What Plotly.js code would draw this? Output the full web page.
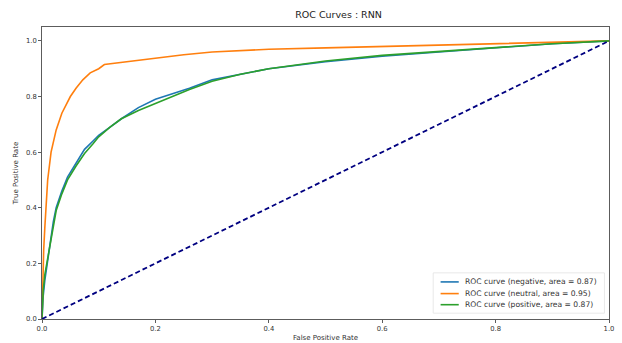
<!DOCTYPE html>
<html><head><meta charset="utf-8">
<script src="https://cdn.plot.ly/plotly-3.0.1.min.js"></script>
<style>html,body{margin:0;padding:0;background:#fff}#c{width:622px;height:343px}</style>
</head><body><div id="c"></div>
<script>
const negFpr = [0, 0.002, 0.005, 0.01, 0.015, 0.02, 0.025, 0.035, 0.045, 0.06, 0.075, 0.09, 0.1, 0.12, 0.14, 0.17, 0.2, 0.23, 0.26, 0.3, 0.35, 0.4, 0.5, 0.6, 0.7, 0.8, 0.9, 1];
const negTpr = [0, 0.08, 0.14, 0.21, 0.29, 0.35, 0.40, 0.46, 0.51, 0.56, 0.61, 0.64, 0.66, 0.69, 0.72, 0.76, 0.79, 0.81, 0.83, 0.86, 0.88, 0.90, 0.925, 0.945, 0.96, 0.975, 0.99, 1];
const neuFpr = [0, 0.001, 0.003, 0.005, 0.007, 0.01, 0.016, 0.025, 0.035, 0.05, 0.06, 0.072, 0.085, 0.1, 0.11, 0.13, 0.16, 0.2, 0.25, 0.3, 0.35, 0.4, 0.5, 0.6, 0.7, 0.8, 0.9, 1];
const neuTpr = [0, 0.15, 0.25, 0.33, 0.42, 0.5, 0.6, 0.68, 0.74, 0.8, 0.83, 0.86, 0.885, 0.9, 0.915, 0.92, 0.93, 0.94, 0.95, 0.96, 0.965, 0.97, 0.975, 0.98, 0.985, 0.99, 0.995, 1];
const posFpr = [0, 0.002, 0.005, 0.01, 0.015, 0.02, 0.025, 0.035, 0.045, 0.06, 0.075, 0.09, 0.1, 0.12, 0.14, 0.17, 0.2, 0.23, 0.26, 0.3, 0.35, 0.4, 0.5, 0.6, 0.7, 0.8, 0.9, 1];
const posTpr = [0, 0.1, 0.16, 0.22, 0.28, 0.34, 0.39, 0.45, 0.50, 0.55, 0.595, 0.63, 0.655, 0.69, 0.72, 0.75, 0.775, 0.80, 0.825, 0.855, 0.88, 0.90, 0.928, 0.948, 0.962, 0.976, 0.99, 1];
const chanceX = [0, 1];
const chanceY = [0, 1];
const names = ["ROC curve (negative, area = 0.87)", "ROC curve (neutral, area = 0.95)", "ROC curve (positive, area = 0.87)"];
const colors = ["#1f77b4", "#ff7f0e", "#2ca02c"];
const tickVals = [0, 0.2, 0.4, 0.6, 0.8, 1.0];
const tickText = ["0.0", "0.2", "0.4", "0.6", "0.8", "1.0"];

const F = "DejaVu Sans, sans-serif";
const series = [[negFpr, negTpr], [neuFpr, neuTpr], [posFpr, posTpr]];
const traces = series.map((s, i) => ({x: s[0], y: s[1], name: names[i], mode: "lines", line: {color: colors[i], width: 1.6}}));
traces.push({x: chanceX, y: chanceY, mode: "lines", line: {color: "navy", width: 1.8, dash: "5px,3px"}});

// compact legend (matplotlib style) drawn in paper coordinates
const legY = [0.127, 0.087, 0.049];
const shapes = [{type: "rect", xref: "paper", yref: "paper", x0: 0.69, x1: 0.992, y0: 0.02, y1: 0.158,
  line: {color: "#e3e3e3", width: 0.8}, fillcolor: "rgba(255,255,255,0.8)", layer: "above"}];
const annotations = [];
names.forEach((n, i) => {
  shapes.push({type: "line", xref: "paper", yref: "paper", x0: 0.703, x1: 0.735, y0: legY[i], y1: legY[i],
    line: {color: colors[i], width: 1.6}, layer: "above"});
  annotations.push({xref: "paper", yref: "paper", x: 0.743, y: legY[i], xanchor: "left", yanchor: "middle",
    text: n, showarrow: false, font: {family: F, size: 7.6, color: "#333"}});
});

const ax = {
  showgrid: false, zeroline: false, showline: true, mirror: true, linecolor: "#333", linewidth: 0.8,
  ticks: "outside", ticklen: 3, tickwidth: 0.8, tickcolor: "#333",
  tickvals: tickVals, ticktext: tickText, tickfont: {family: F, size: 6.8, color: "#333"}
};
const layout = {
  width: 622, height: 343, paper_bgcolor: "#fff", plot_bgcolor: "#fff",
  margin: {l: 42, r: 13, t: 27, b: 24},
  title: {text: "ROC Curves : RNN", font: {family: F, size: 9.5, color: "#222"}, x: 0.523, xanchor: "center", y: 0.958, yanchor: "middle", xref: "paper"},
  xaxis: Object.assign({}, ax, {range: [0, 1], title: {text: "False Positive Rate", font: {family: F, size: 7, color: "#333"}, standoff: 3}}),
  yaxis: Object.assign({}, ax, {range: [0, 1.05], title: {text: "True Positive Rate", font: {family: F, size: 7, color: "#333"}, standoff: 6}}),
  showlegend: false,
  shapes: shapes,
  annotations: annotations
};
Plotly.newPlot("c", traces, layout, {displayModeBar: false, staticPlot: true});
</script></body></html>
